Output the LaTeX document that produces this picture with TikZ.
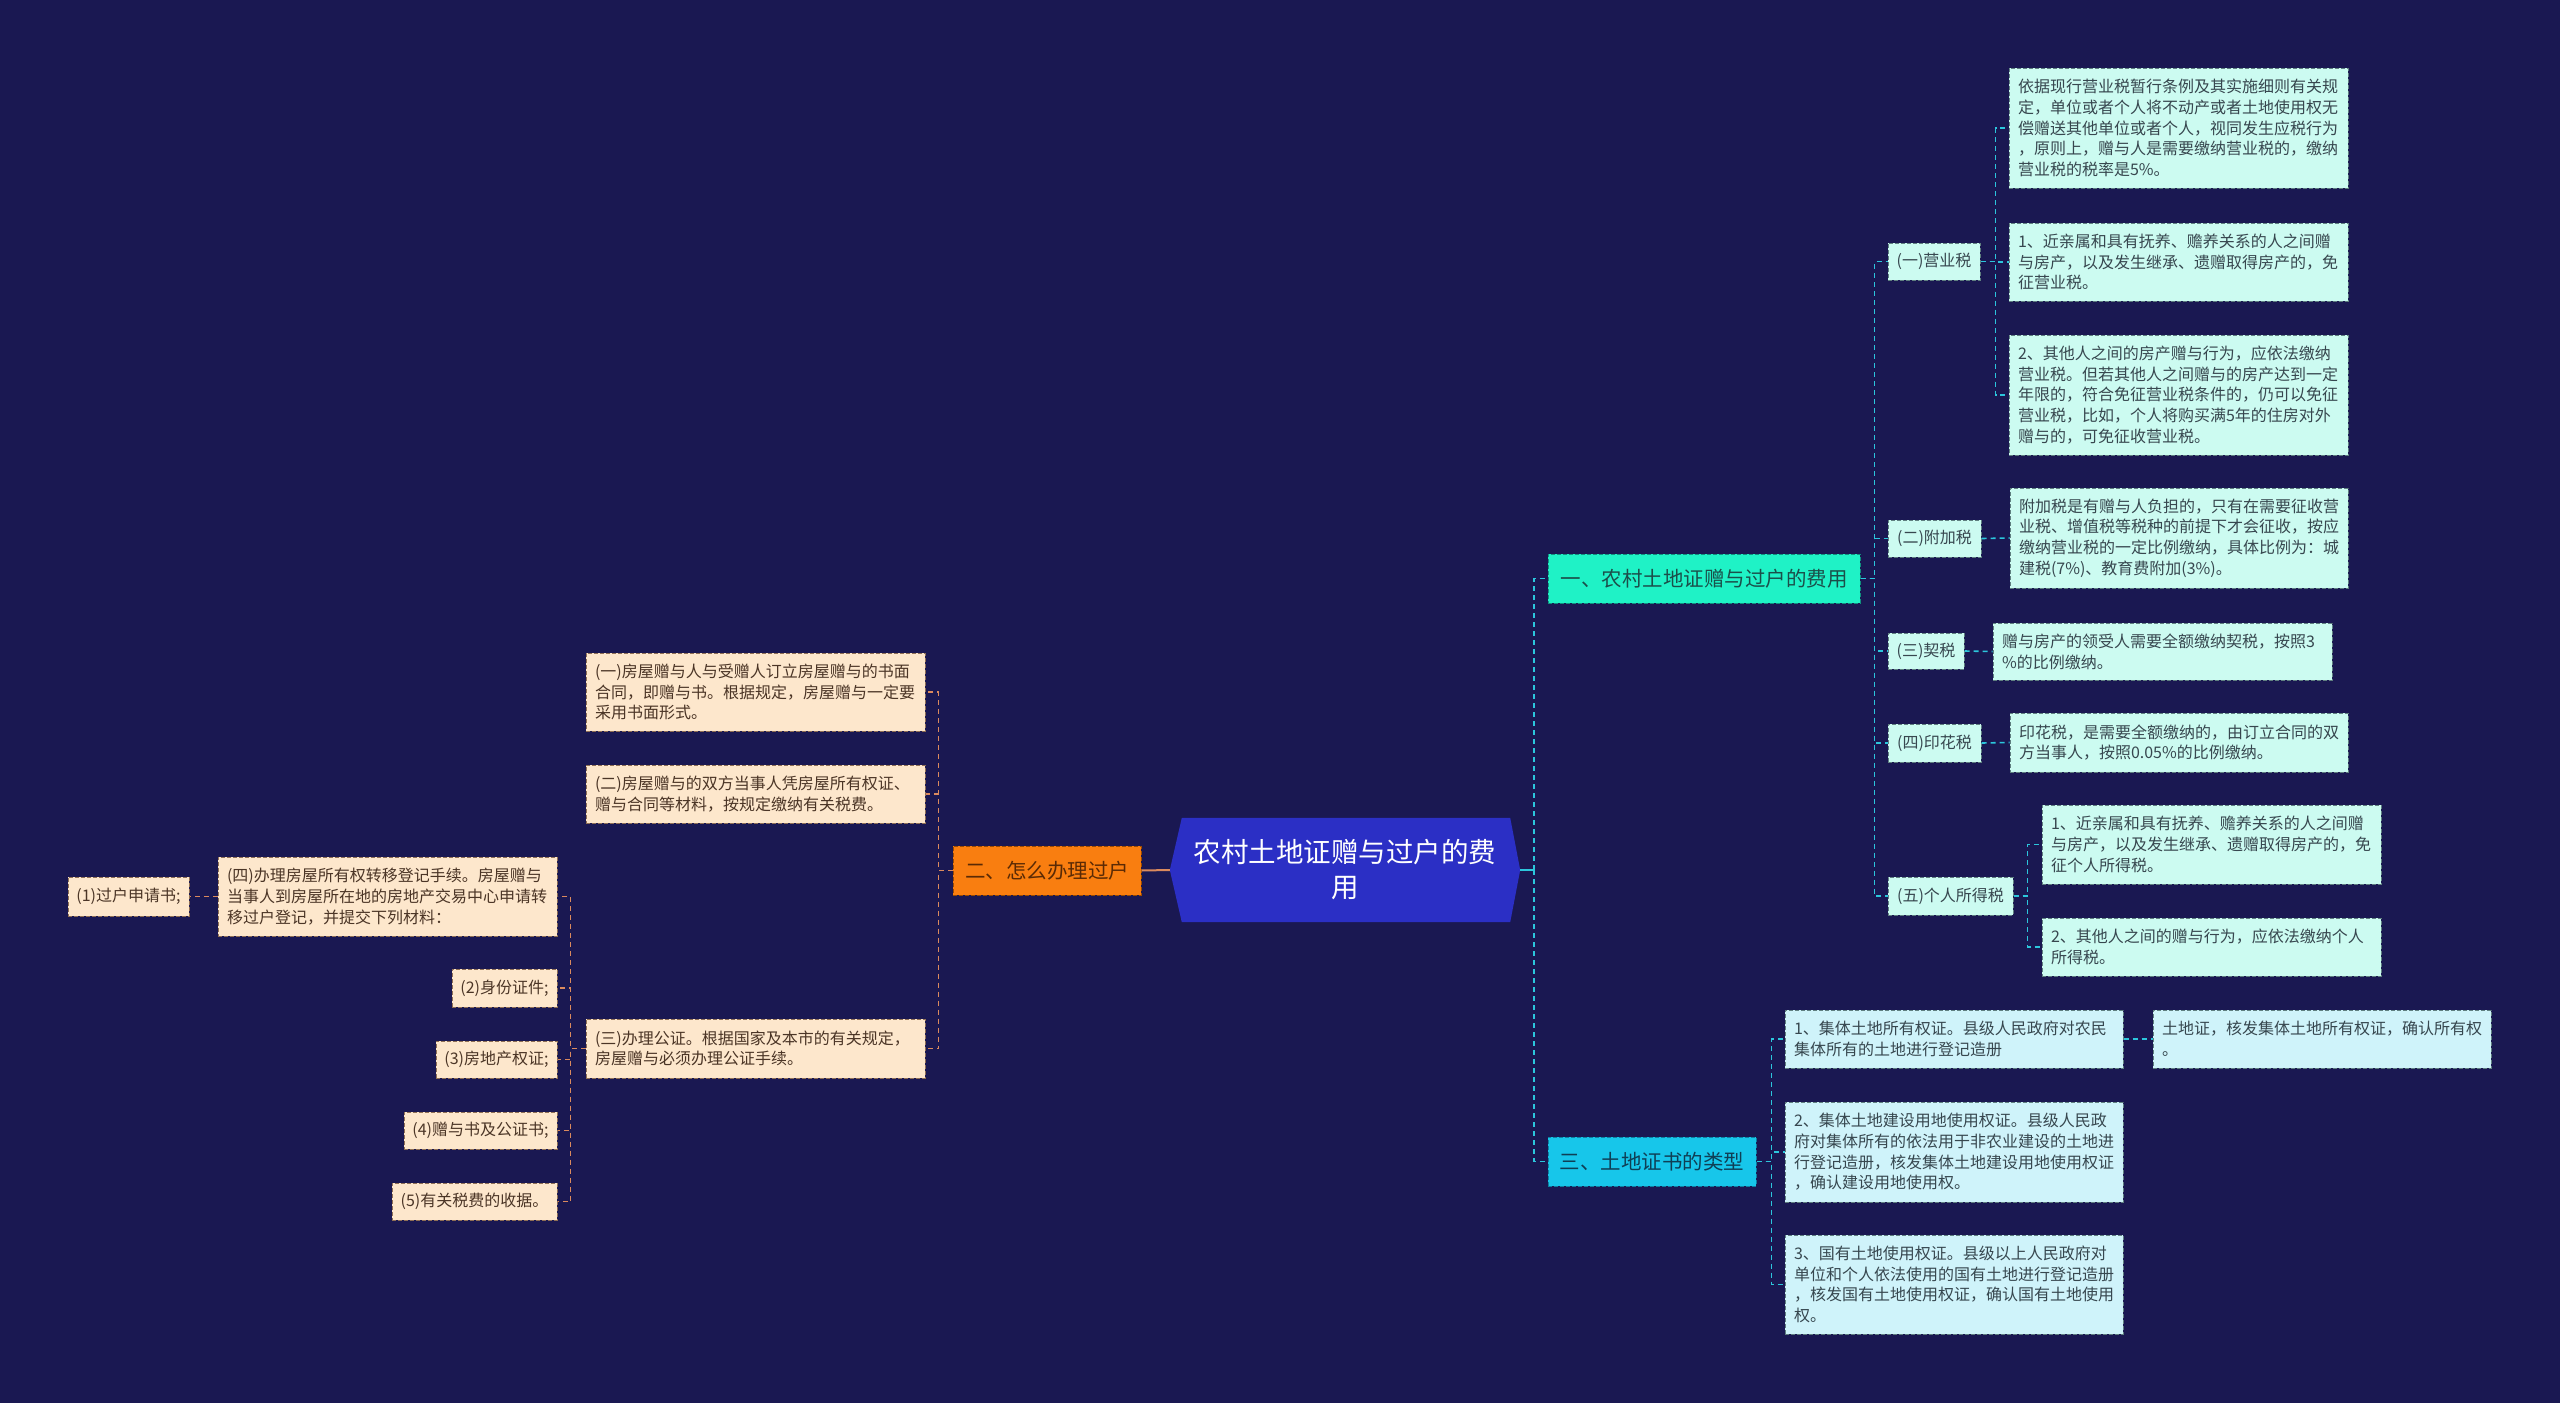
\documentclass[tikz,border=0pt]{standalone}
\usepackage{fontspec}
\setmainfont{Noto Sans CJK SC}
\usetikzlibrary{backgrounds,calc}
\definecolor{bg}{HTML}{1A1852}
\definecolor{central}{HTML}{2B2FC5}
\definecolor{gone}{HTML}{1FF2C6}
\definecolor{gonetext}{HTML}{1B4F4A}
\definecolor{goneborder}{HTML}{10907E}
\definecolor{gthree}{HTML}{17C6EA}
\definecolor{gthreetext}{HTML}{0F3F55}
\definecolor{gthreeborder}{HTML}{0E7FA0}
\definecolor{gtwo}{HTML}{F97E10}
\definecolor{gtwotext}{HTML}{5A2A05}
\definecolor{gtwoborder}{HTML}{9A4A00}
\definecolor{rfill}{HTML}{CCFBF1}
\definecolor{rfilltwo}{HTML}{CFF3FA}
\definecolor{rtext}{HTML}{37474F}
\definecolor{rborder}{HTML}{5F7F80}
\definecolor{lfill}{HTML}{FDE7CC}
\definecolor{ltext}{HTML}{4B3526}
\definecolor{lborder}{HTML}{8F6F55}
\definecolor{rcon}{HTML}{2CC6DC}
\definecolor{lcon}{HTML}{DB8A5E}
\begin{document}
\begin{tikzpicture}[x=1pt,y=-1pt,
  rline/.style={draw=rcon, line width=1.6pt, dash pattern=on 5pt off 4pt},
  lline/.style={draw=lcon, line width=1.4pt, dash pattern=on 5pt off 4pt},
  leafbase/.style={font=\fontsize{16}{20.7}\selectfont, inner xsep=9pt, inner ysep=0pt, align=left, line width=1pt, dash pattern=on 4pt off 2pt},
  rleaf/.style={leafbase, fill=rfill, draw=rborder, text=rtext},
  rleaftwo/.style={leafbase, fill=rfilltwo, draw=rborder, text=rtext},
  lleaf/.style={leafbase, fill=lfill, draw=lborder, text=ltext},
  smallbase/.style={font=\fontsize{16}{20}\selectfont, inner sep=0pt, align=center, line width=1pt, dash pattern=on 4pt off 2pt},
  rsmall/.style={smallbase, fill=rfill, draw=rborder, text=rtext},
  lsmall/.style={smallbase, fill=lfill, draw=lborder, text=ltext},
  topic/.style={font=\fontsize{20.5}{24}\selectfont, inner sep=0pt, align=center, line width=1pt, dash pattern=on 4pt off 2pt, minimum height=49pt}
]
\useasboundingbox (0,0) rectangle (2560,1403);

% central
\node[font=\fontsize{27.5}{35}\selectfont, text=white, align=center, minimum width=350pt, minimum height=104pt, inner sep=0pt] (c) at (1345,870) {农村土地证赠与过户的费\\用};
\begin{scope}[on background layer]
\fill[bg] (0,0) rectangle (2560,1403);
\fill[central] (c.west) -- ([xshift=12pt]c.north west) -- ([xshift=-10pt]c.north east) -- (c.east) -- ([xshift=-10pt]c.south east) -- ([xshift=12pt]c.south west) -- cycle;
\end{scope}

% level 1
\node[topic, fill=gone, draw=goneborder, text=gonetext, minimum width=312pt] (n1) at (1704,578.5) {一、农村土地证赠与过户的费用};
\node[topic, fill=gthree, draw=gthreeborder, text=gthreetext, minimum width=208pt] (n3) at (1652,1161.5) {三、土地证书的类型};
\node[topic, fill=gtwo, draw=gtwoborder, text=gtwotext, minimum width=188pt] (n2) at (1047,870.5) {二、怎么办理过户};

% branch one
\node[rsmall, minimum width=92pt, minimum height=37pt] (a) at (1934,261.5) {(一)营业税};
\node[rsmall, minimum width=93pt, minimum height=37pt] (b) at (1934.5,538.5) {(二)附加税};
\node[rsmall, minimum width=76pt, minimum height=36pt] (cc) at (1926,651) {(三)契税};
\node[rsmall, minimum width=93pt, minimum height=38pt] (d) at (1934.5,743) {(四)印花税};
\node[rsmall, minimum width=125pt, minimum height=38pt] (e) at (1950.5,896) {(五)个人所得税};

\node[rleaf, text width=321pt, minimum height=120pt] (a1) at (2178.5,128) {依据现行营业税暂行条例及其实施细则有关规\\定，单位或者个人将不动产或者土地使用权无\\偿赠送其他单位或者个人，视同发生应税行为\\，原则上，赠与人是需要缴纳营业税的，缴纳\\营业税的税率是5\%。};
\node[rleaf, text width=321pt, minimum height=78pt] (a2) at (2178.5,262) {1、近亲属和具有抚养、赡养关系的人之间赠\\与房产，以及发生继承、遗赠取得房产的，免\\征营业税。};
\node[rleaf, text width=321pt, minimum height=120pt] (a3) at (2178.5,395) {2、其他人之间的房产赠与行为，应依法缴纳\\营业税。但若其他人之间赠与的房产达到一定\\年限的，符合免征营业税条件的，仍可以免征\\营业税，比如，个人将购买满5年的住房对外\\赠与的，可免征收营业税。};
\node[rleaf, text width=320pt, minimum height=100pt] (b1) at (2179,538) {附加税是有赠与人负担的，只有在需要征收营\\业税、增值税等税种的前提下才会征收，按应\\缴纳营业税的一定比例缴纳，具体比例为：城\\建税(7\%)、教育费附加(3\%)。};
\node[rleaf, text width=321pt, minimum height=57pt] (c1) at (2162.5,651.5) {赠与房产的领受人需要全额缴纳契税，按照3\\\%的比例缴纳。};
\node[rleaf, text width=320pt, minimum height=59pt] (d1) at (2179,742.5) {印花税，是需要全额缴纳的，由订立合同的双\\方当事人，按照0.05\%的比例缴纳。};
\node[rleaf, text width=321pt, minimum height=79pt] (e1) at (2211.5,844.5) {1、近亲属和具有抚养、赡养关系的人之间赠\\与房产，以及发生继承、遗赠取得房产的，免\\征个人所得税。};
\node[rleaf, text width=321pt, minimum height=58pt] (e2) at (2211.5,947) {2、其他人之间的赠与行为，应依法缴纳个人\\所得税。};

% branch three
\node[rleaftwo, text width=320pt, minimum height=58pt] (f1) at (1954,1039) {1、集体土地所有权证。县级人民政府对农民\\集体所有的土地进行登记造册};
\node[rleaftwo, text width=320pt, minimum height=58pt] (f1a) at (2322,1039) {土地证，核发集体土地所有权证，确认所有权\\。};
\node[rleaftwo, text width=320pt, minimum height=100pt] (f2) at (1954,1152) {2、集体土地建设用地使用权证。县级人民政\\府对集体所有的依法用于非农业建设的土地进\\行登记造册，核发集体土地建设用地使用权证\\，确认建设用地使用权。};
\node[rleaftwo, text width=320pt, minimum height=99pt] (f3) at (1954,1284.5) {3、国有土地使用权证。县级以上人民政府对\\单位和个人依法使用的国有土地进行登记造册\\，核发国有土地使用权证，确认国有土地使用\\权。};

% branch two (left)
\node[lleaf, text width=321pt, minimum height=78pt] (la) at (755.5,692) {(一)房屋赠与人与受赠人订立房屋赠与的书面\\合同，即赠与书。根据规定，房屋赠与一定要\\采用书面形式。};
\node[lleaf, text width=321pt, minimum height=58pt] (lb) at (755.5,794) {(二)房屋赠与的双方当事人凭房屋所有权证、\\赠与合同等材料，按规定缴纳有关税费。};
\node[lleaf, text width=321pt, minimum height=59pt] (lc) at (755.5,1048.5) {(三)办理公证。根据国家及本市的有关规定，\\房屋赠与必须办理公证手续。};
\node[lleaf, text width=321pt, minimum height=79pt] (ld) at (387.5,896.5) {(四)办理房屋所有权转移登记手续。房屋赠与\\当事人到房屋所在地的房地产交易中心申请转\\移过户登记，并提交下列材料：};
\node[lsmall, minimum width=121pt, minimum height=39pt] (l1) at (128.5,896.5) {(1)过户申请书;};
\node[lsmall, minimum width=105pt, minimum height=38pt] (l2) at (504.5,988) {(2)身份证件;};
\node[lsmall, minimum width=121pt, minimum height=37pt] (l3) at (496.5,1059.5) {(3)房地产权证;};
\node[lsmall, minimum width=153pt, minimum height=37pt] (l4) at (480.5,1130.5) {(4)赠与书及公证书;};
\node[lsmall, minimum width=165pt, minimum height=37pt] (l5) at (474.5,1201.5) {(5)有关税费的收据。};

% connectors: central
\draw[draw=rcon, line width=1.8pt] (c.east) -- ++(14,0) coordinate (cr);
\draw[rline] (cr) |- (n1.west);
\draw[rline] (cr) |- (n3.west);
\draw[draw=lcon, line width=2pt] (c.west) -- (n2.east);

% branch one connectors
\foreach \t in {a,b,cc,d,e} \draw[rline] (n1.east) -- ++(14,0) |- (\t.west);
\foreach \t in {a1,a2,a3} \draw[rline] (a.east) -- ++(15,0) |- (\t.west);
\draw[rline] (b.east) -- (b1.west);
\draw[rline] (cc.east) -- (c1.west);
\draw[rline] (d.east) -- (d1.west);
\foreach \t in {e1,e2} \draw[rline] (e.east) -- ++(14,0) |- (\t.west);

% branch three connectors
\foreach \t in {f1,f2,f3} \draw[rline] (n3.east) -- ++(15,0) |- (\t.west);
\draw[rline] (f1.east) -- (f1a.west);

% branch two connectors
\foreach \t in {la,lb,lc} \draw[lline] (n2.west) -- ++(-14,0) |- (\t.east);
\foreach \t in {ld,l2,l3,l4,l5} \draw[lline] (lc.west) -- ++(-15,0) |- (\t.east);
\draw[lline] (ld.west) -- (l1.east);
\end{tikzpicture}
\end{document}
